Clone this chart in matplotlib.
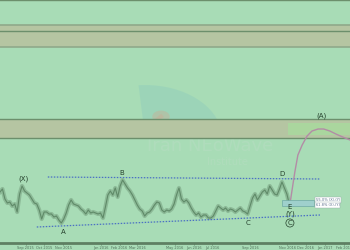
import matplotlib
matplotlib.use("Agg")
import matplotlib.pyplot as plt
import matplotlib.dates as mdates
from matplotlib.patches import Wedge, Circle, Rectangle
import pandas as pd

# price levels (chart units), one every 4 days from 2015-07-21
start = "2015-07-21"
price = [51, 54, 44, 40, 41, 37, 39, 31, 49, 57, 52, 50, 48, 44, 40, 39, 33, 24, 31, 31,
         29, 29, 26, 27, 23, 20, 24, 30, 38, 43, 39, 38, 37, 34, 32, 29, 33, 30, 31, 30,
         29, 30, 25, 36, 48, 52, 48, 55, 46, 57, 63, 59, 55, 52, 48, 43, 38, 34, 32, 27,
         30, 31, 34, 38, 41, 40, 33, 31, 33, 32, 34, 39, 48, 55, 44, 41, 43, 40, 35, 31,
         28, 30, 26, 28, 28, 25, 25, 27, 32, 37, 35, 33, 35, 32, 34, 33, 31, 33, 35, 32,
         31, 29, 37, 45, 49, 43, 47, 51, 53, 49, 57, 53, 49, 48, 54, 61, 55, 49, 39]

# projected path after E
proj_dates = ["2016-11-05", "2016-11-08", "2016-11-13", "2016-11-18", "2016-11-25",
              "2016-12-03", "2016-12-11", "2016-12-21", "2016-12-30", "2017-01-09",
              "2017-01-19", "2017-01-30", "2017-02-11"]
proj_vals = [39, 51, 71, 88, 98, 107, 112, 114, 114, 112, 109, 106, 103]

# channel lines
upper_dates = ["2015-10-07", "2016-12-24"]
upper_vals = [66, 64]
lower_dates = ["2015-09-19", "2016-12-24"]
lower_vals = [16, 28]

# wave labels
wave_labels = ["(X)", "A", "B", "C", "D", "E", "(Y)", "(A)"]
wave_dates = ["2015-08-29", "2015-11-01", "2016-02-05", "2016-08-28", "2016-10-23",
              "2016-11-05", "2016-11-05", "2016-12-27"]
wave_vals = [64, 11, 70, 20, 69, 36, 29, 127]

# horizontal zones (low, high)
zones = [(196, 218), (105, 124)]
zone_lines = [243, 212, 124, 105]
zone_edges = [218, 196]

tick_months = ["2015-09-01", "2015-10-01", "2015-11-01", "2016-01-01", "2016-02-01",
               "2016-03-01", "2016-05-01", "2016-06-01", "2016-07-01", "2016-09-01",
               "2016-11-01", "2016-12-01", "2017-01-01", "2017-02-01"]
tick_text = ["Sep 2015", "Oct 2015", "Nov 2015", "Jan 2016", "Feb 2016", "Mar 2016",
             "May 2016", "Jun 2016", "Jul 2016", "Sep 2016", "Nov 2016", "Dec 2016",
             "Jan 2017", "Feb 2017"]

bg = "#a8dcb6"
fig = plt.figure(figsize=(3.5, 2.5), dpi=100)
fig.patch.set_facecolor(bg)
ax = fig.add_axes([0, 0.028, 1, 0.972])
ax.set_facecolor(bg)

x0 = pd.Timestamp(start)
x1 = pd.Timestamp("2017-02-11")
ax.set_xlim(x0, x1)
ax.set_ylim(0, 243)

# watermark
ax.add_patch(Wedge((0.415, 0.43), 0.22, 12, 95, transform=ax.transAxes,
                   color="#93cfbb", alpha=0.55, lw=0, zorder=0))
ax.add_patch(Circle((0.46, 0.52), 0.025, transform=ax.transAxes,
                    color="#d4a68c", alpha=0.35, lw=0, zorder=0))
ax.plot([0.46, 0.40], [0.52, 0.45], transform=ax.transAxes, color="#d4a68c",
        alpha=0.35, lw=3, zorder=0)
ax.text(0.42, 0.40, "Iran NEoWave", transform=ax.transAxes, fontsize=13,
        color="#bcdcc6", alpha=0.4, ha="left", va="center", zorder=0)
ax.text(0.59, 0.335, "Institute", transform=ax.transAxes, fontsize=7,
        color="#bcdcc6", alpha=0.4, ha="left", va="center", zorder=0)

for lo, hi in zones:
    ax.axhspan(lo, hi, color="#b5c5a2", lw=0, zorder=1)
for y in zone_lines:
    ax.axhline(y, color="#6c8f6c", lw=1.0, zorder=2)
for y in zone_edges:
    ax.axhline(y, color="#8fa98a", lw=1.2, zorder=2)
ax.add_patch(Rectangle((mdates.date2num(pd.Timestamp("2016-11-02")), 108),
                       mdates.date2num(x1) - mdates.date2num(pd.Timestamp("2016-11-02")), 12,
                       color="#aad69e", lw=0, zorder=1.5))

dates = pd.date_range(start, periods=len(price), freq="4D")
ax.plot(dates, price, color="#7aa483", lw=3.0, alpha=0.6, zorder=3)
ax.plot(dates, price, color="#5f8a68", lw=0.8, zorder=3)

ax.plot(pd.to_datetime(upper_dates), upper_vals, color="#4a6fc4", lw=0.9,
        ls=(0, (1.2, 1.2)), zorder=3)
ax.plot(pd.to_datetime(lower_dates), lower_vals, color="#4a6fc4", lw=0.9,
        ls=(0, (1.2, 1.2)), zorder=3)

ax.plot(pd.to_datetime(proj_dates), proj_vals, color="#b38ca6", lw=1.0, zorder=3)

# fib box and labels
fb0 = mdates.date2num(pd.Timestamp("2016-10-23"))
fb1 = mdates.date2num(pd.Timestamp("2016-12-14"))
ax.add_patch(Rectangle((fb0, 37), fb1 - fb0, 6, facecolor="#9fd0cc",
                       edgecolor="#6fa9a3", lw=0.5, zorder=4))
lb = pd.Timestamp("2016-12-17")
ax.text(lb, 43, "55.0% (X)-(Y)", fontsize=2.6, color="#5c6f8c", va="center",
        bbox=dict(boxstyle="square,pad=0.2", fc="white", ec="#9aa", lw=0.3), zorder=5)
ax.text(lb, 38, "61.8% (X)-(Y)", fontsize=2.6, color="#5c6f8c", va="center",
        bbox=dict(boxstyle="square,pad=0.2", fc="white", ec="#9aa", lw=0.3), zorder=5)

for lab, d, v in zip(wave_labels, wave_dates, wave_vals):
    ax.text(pd.Timestamp(d), v, lab, fontsize=5, color="#25402c",
            ha="center", va="center", zorder=6)
ax.text(pd.Timestamp("2016-11-05"), 20, "C", fontsize=5, color="#25402c",
        ha="center", va="center", zorder=6,
        bbox=dict(boxstyle="circle,pad=0.15", fc="none", ec="#25402c", lw=0.5))

for s in ["top", "right", "left"]:
    ax.spines[s].set_visible(False)
ax.spines["bottom"].set_color("#5e7f62")
ax.spines["bottom"].set_linewidth(2)
ax.set_yticks([])
ax.set_xticks(pd.to_datetime(tick_months))
ax.set_xticklabels(tick_text)
ax.tick_params(axis="x", labelsize=2.5, colors="#4f6f58", length=1.5, width=0.5, pad=0.5)

fig.savefig("out.png", dpi=100, facecolor=bg)
